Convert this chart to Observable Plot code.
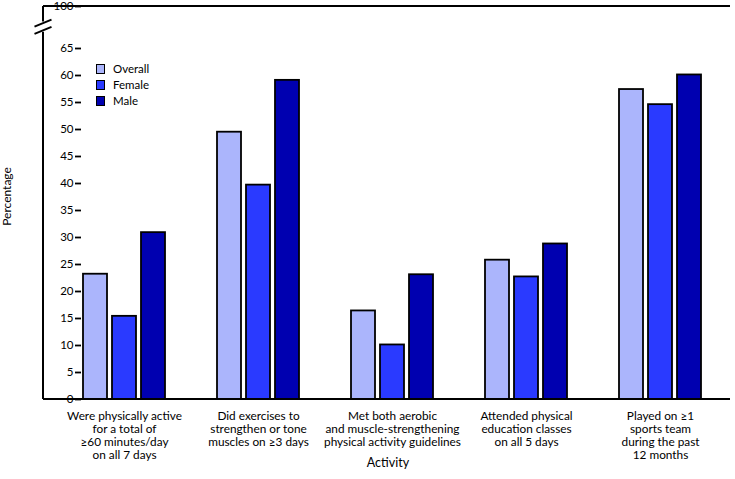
<!DOCTYPE html>
<html>
<head>
<meta charset="utf-8">
<script src="https://cdn.jsdelivr.net/npm/d3@7"></script>
<script src="https://cdn.jsdelivr.net/npm/@observablehq/plot@0.6"></script>
<style>
  html, body { margin: 0; padding: 0; background: #fff; }
  #wrap { position: relative; width: 735px; height: 479px; font-family: "Liberation Sans Narrow", "Lato", sans-serif; }
  #legend { position: absolute; left: 96px; top: 61px; font-size: 11.5px; line-height: 16px; }
  #legend .row { display: flex; align-items: center; height: 16px; }
  #legend .sw { width: 7px; height: 8px; border: 1.6px solid #000; margin-right: 8px; }
</style>
</head>
<body>
<div id="wrap"><div id="legend"></div></div>
<script>
const activities = [
  "Were physically active\nfor a total of\n≥60 minutes/day\non all 7 days",
  "Did exercises to\nstrengthen or tone\nmuscles on ≥3 days",
  "Met both aerobic\nand muscle-strengthening\nphysical activity guidelines",
  "Attended physical\neducation classes\non all 5 days",
  "Played on ≥1\nsports team\nduring the past\n12 months"
];
const groups = ["Overall", "Female", "Male"];
const overall = [23.2, 49.5, 16.4, 25.8, 57.4];
const female  = [15.4, 39.7, 10.1, 22.7, 54.6];
const male    = [30.9, 59.1, 23.1, 28.8, 60.1];
const colors  = ["#abb5fc", "#2a3aff", "#0000b0"];
const yTicks  = [0, 5, 10, 15, 20, 25, 30, 35, 40, 45, 50, 55, 60, 65, 100];

const seriesValues = [overall, female, male];
const data = [];
activities.forEach((a, i) => groups.forEach((g, j) => data.push({activity: a, group: g, value: seriesValues[j][i]})));

const W = 735, H = 479, mL = 43, mR = 5, mT = 6, mB = 80;
const y65 = 48;
const FONT = '"Liberation Sans Narrow", "Lato", sans-serif';

const plot = Plot.plot({
  width: W, height: H,
  marginLeft: mL, marginRight: mR, marginTop: mT, marginBottom: mB,
  style: {fontFamily: FONT, fontSize: "11.5px", color: "#000", background: "#fff"},
  fx: {domain: activities, paddingInner: 0.36, paddingOuter: 0.24, align: 0.58, label: null},
  x: {domain: groups, paddingInner: 0.18, paddingOuter: 0.03, axis: null},
  y: {type: "linear", domain: [0, 65, 100], range: [H - mB, y65, mT], axis: null},
  color: {domain: groups, range: colors},
  marks: [
    Plot.barY(data, {fx: "activity", x: "group", y: "value", fill: "group", stroke: "#000", strokeWidth: 1.8}),
    Plot.axisY({ticks: yTicks, tickSize: 6, tickPadding: 2, tickFormat: d => String(d), strokeWidth: 1.8,
                label: null, fontSize: 11.5}),
    Plot.axisFx({anchor: "bottom", tickSize: 0, tickPadding: 11, lineHeight: 1.1, fontSize: 11.8, label: null})
  ]
});

document.getElementById("wrap").prepend(plot);

// frame lines, axis titles and y-axis line with a scale break, drawn through the plot's y scale
const ys = plot.scale("y");
const svg = d3.select(plot);
const breakLow = 78.5, breakHigh = 87;
const ax = mL;
[0, 100].forEach(v => {
  svg.append("line").attr("x1", ax).attr("x2", W - mR).attr("y1", ys.apply(v)).attr("y2", ys.apply(v))
    .attr("stroke", "#000").attr("stroke-width", 2);
});
svg.append("line").attr("x1", ax).attr("x2", ax).attr("y1", ys.apply(0)).attr("y2", ys.apply(breakLow))
  .attr("stroke", "#000").attr("stroke-width", 2);
svg.append("line").attr("x1", ax).attr("x2", ax).attr("y1", ys.apply(breakHigh)).attr("y2", ys.apply(100))
  .attr("stroke", "#000").attr("stroke-width", 2);
[breakLow, breakHigh].forEach(v => {
  const cy = ys.apply(v);
  const c = v === breakLow ? cy - 1.5 : cy + 1.5;
  svg.append("line").attr("x1", ax - 8.5).attr("y1", c + 3.5).attr("x2", ax + 8.5).attr("y2", c - 3.5)
    .attr("stroke", "#000").attr("stroke-width", 2);
});
svg.append("text").text("Percentage")
  .attr("transform", `translate(11,${ys.apply(37.5)}) rotate(-90)`)
  .attr("text-anchor", "middle").attr("font-family", FONT).attr("font-size", 12).attr("fill", "#000");
svg.append("text").text("Activity")
  .attr("x", 388).attr("y", 467)
  .attr("text-anchor", "middle").attr("font-family", FONT).attr("font-size", 12.5).attr("fill", "#000");

// legend
const leg = document.getElementById("legend");
groups.forEach((g, i) => {
  const row = document.createElement("div");
  row.className = "row";
  const sw = document.createElement("div");
  sw.className = "sw";
  sw.style.background = colors[i];
  const t = document.createElement("span");
  t.textContent = g;
  row.append(sw, t);
  leg.append(row);
});
</script>
</body>
</html>
